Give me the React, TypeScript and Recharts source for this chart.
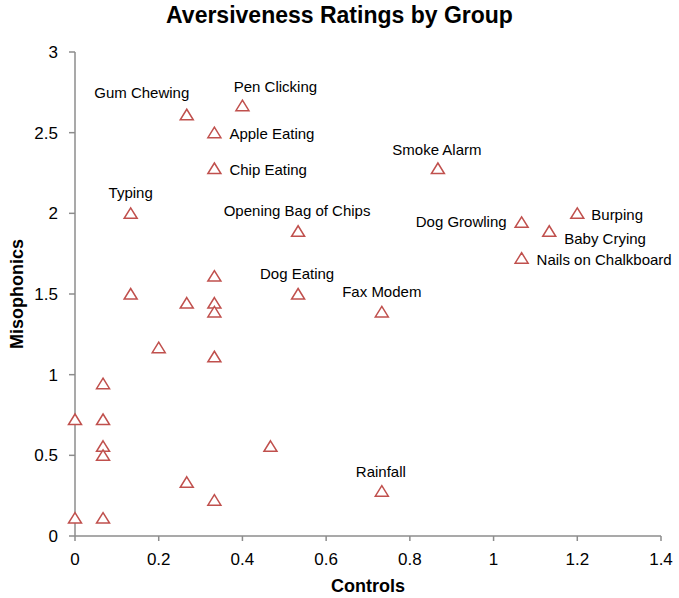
import React from 'react';
import { ScatterChart, Scatter, XAxis, YAxis } from 'recharts';

// sound names ('' = unlabelled point)
const sounds = [
  'Gum Chewing', 'Pen Clicking', 'Apple Eating', 'Chip Eating', 'Smoke Alarm',
  'Typing', 'Opening Bag of Chips', 'Dog Growling', 'Burping', 'Baby Crying',
  'Nails on Chalkboard', 'Dog Eating', 'Fax Modem', 'Rainfall',
  '', '', '', '', '', '', '', '', '', '', '', '', '', '', '', '', '',
];
const controls = [
  0.267, 0.4, 0.333, 0.333, 0.867,
  0.133, 0.533, 1.067, 1.2, 1.133,
  1.067, 0.533, 0.733, 0.733,
  0.133, 0.333, 0.267, 0.333, 0.333, 0.2, 0.333, 0.067, 0, 0.067, 0.067, 0.067, 0.467, 0.267, 0.333, 0, 0.067,
];
const misophonics = [
  2.611, 2.667, 2.5, 2.278, 2.278,
  2.0, 1.889, 1.944, 2.0, 1.889,
  1.722, 1.5, 1.389, 0.278,
  1.5, 1.611, 1.444, 1.444, 1.389, 1.167, 1.111, 0.944, 0.722, 0.722, 0.556, 0.5, 0.556, 0.333, 0.222, 0.111, 0.111,
];
const xTicks = [0, 0.2, 0.4, 0.6, 0.8, 1, 1.2, 1.4];
const yTicks = [0, 0.5, 1, 1.5, 2, 2.5, 3];

const data = controls.map((x, i) => ({ x, y: misophonics[i], name: sounds[i] }));

const FONT = '"Liberation Sans", Arial, sans-serif';
const RED = '#c0504d';
const AXIS = '#8c8c8c';

// where each label sits relative to its marker
const labelPlace: Record<string, { dx: number; dy: number; anchor: 'start' | 'middle' | 'end' }> = {
  'Gum Chewing': { dx: -45, dy: -22, anchor: 'middle' },
  'Pen Clicking': { dx: 33, dy: -19, anchor: 'middle' },
  'Apple Eating': { dx: 15, dy: 1, anchor: 'start' },
  'Chip Eating': { dx: 15, dy: 1, anchor: 'start' },
  'Smoke Alarm': { dx: -1, dy: -19, anchor: 'middle' },
  'Typing': { dx: 0, dy: -21, anchor: 'middle' },
  'Opening Bag of Chips': { dx: -1, dy: -21, anchor: 'middle' },
  'Dog Growling': { dx: -15, dy: -1, anchor: 'end' },
  'Burping': { dx: 14, dy: 1, anchor: 'start' },
  'Baby Crying': { dx: 15, dy: 7, anchor: 'start' },
  'Nails on Chalkboard': { dx: 15, dy: 1, anchor: 'start' },
  'Dog Eating': { dx: -1, dy: -21, anchor: 'middle' },
  'Fax Modem': { dx: 0, dy: -20, anchor: 'middle' },
  'Rainfall': { dx: -1, dy: -20, anchor: 'middle' },
};

const TriangleMark = (props: any) => {
  const { cx, cy, payload } = props;
  if (cx == null || cy == null) return null;
  const place = payload && payload.name ? labelPlace[payload.name] : null;
  return (
    <g>
      <path
        d={`M${cx},${cy - 5.5} L${cx + 6.5},${cy + 5} L${cx - 6.5},${cy + 5} Z`}
        fill="#fff"
        stroke={RED}
        strokeWidth={1.5}
      />
      {place && (
        <text
          x={cx + place.dx}
          y={cy + place.dy}
          textAnchor={place.anchor}
          dominantBaseline="central"
          fontSize={15}
          fontFamily={FONT}
          fill="#000"
        >
          {payload.name}
        </text>
      )}
    </g>
  );
};

export default function App() {
  return (
    <div style={{ position: 'absolute', left: 0, top: 0, width: 679, height: 598, background: '#fff' }}>
      <div
        style={{
          position: 'absolute', left: 0, top: 4, width: 679, textAlign: 'center',
          fontFamily: FONT, fontWeight: 'bold', fontSize: 23, lineHeight: '23px', color: '#000',
        }}
      >
        Aversiveness Ratings by Group
      </div>
      <ScatterChart width={679} height={598} margin={{ top: 52, right: 18, bottom: 0, left: 0 }}>
        <XAxis
          type="number"
          dataKey="x"
          domain={[0, 1.4]}
          ticks={xTicks}
          height={62}
          stroke={AXIS}
          strokeWidth={1.5}
          tickSize={5}
          tickMargin={12}
          tick={{ fill: '#000', fontSize: 17, fontFamily: FONT }}
          label={{
            value: 'Controls', position: 'insideBottom', offset: 6,
            style: { fill: '#000', fontSize: 18, fontWeight: 'bold', fontFamily: FONT },
          }}
        />
        <YAxis
          type="number"
          dataKey="y"
          domain={[0, 3]}
          ticks={yTicks}
          width={75}
          stroke={AXIS}
          strokeWidth={1.5}
          tickSize={6}
          tickMargin={11}
          tick={{ fill: '#000', fontSize: 17, fontFamily: FONT }}
          label={({ viewBox }: any) => {
            const cy = viewBox.y + viewBox.height / 2;
            return (
              <text
                x={17}
                y={cy}
                transform={`rotate(-90 17 ${cy})`}
                textAnchor="middle"
                dominantBaseline="central"
                fontSize={18}
                fontWeight="bold"
                fontFamily={FONT}
                fill="#000"
              >
                Misophonics
              </text>
            );
          }}
        />
        <Scatter data={data} shape={TriangleMark} isAnimationActive={false} />
      </ScatterChart>
    </div>
  );
}
